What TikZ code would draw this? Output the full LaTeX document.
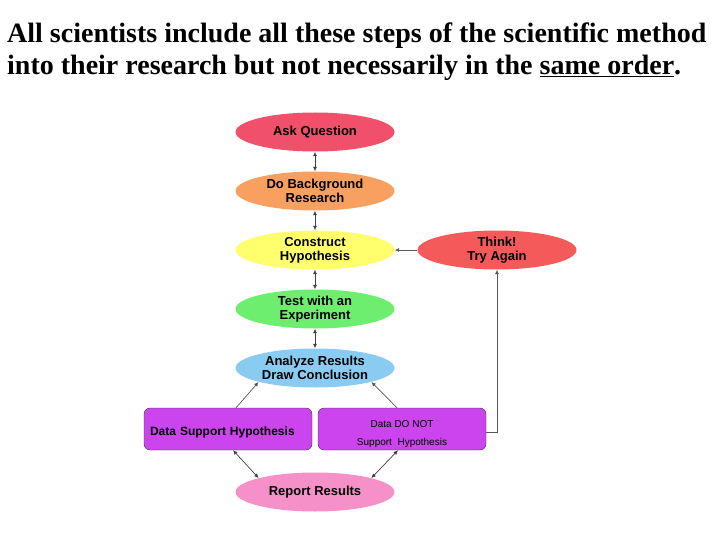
\documentclass[tikz,border=0pt]{standalone}
\usepackage{fontspec}
\setmainfont{Liberation Serif}
\setsansfont{Liberation Sans}
\usetikzlibrary{positioning,arrows.meta,shapes.geometric}
\definecolor{askred}{HTML}{F0506A}
\definecolor{bgorange}{HTML}{F8A060}
\definecolor{hypyellow}{HTML}{FFFF6E}
\definecolor{expgreen}{HTML}{6EEE6E}
\definecolor{anablue}{HTML}{8ACBF2}
\definecolor{thinkred}{HTML}{F55A5A}
\definecolor{reppink}{HTML}{F590C8}
\definecolor{datapurple}{HTML}{CC44EE}

\tikzset{
  stepnode/.style={ellipse,minimum width=159pt,minimum height=39pt,inner sep=0pt,
    align=center,font=\sffamily\bfseries\fontsize{13}{14}\selectfont},
  databox/.style={draw=black!80,fill=datapurple,rounded corners=6pt,minimum width=168pt,
    minimum height=42pt,inner sep=0pt,align=center},
  link/.style={draw=black!75,line width=0.7pt,{Latex[length=4.5pt,width=4pt]}-{Latex[length=4.5pt,width=4pt]}},
  oneway/.style={draw=black!65,line width=0.7pt,-{Latex[length=4.5pt,width=4pt]}}
}

\begin{document}
\begin{tikzpicture}[x=1pt,y=-1pt]
  \useasboundingbox (0,0) rectangle (720,540);
  % title
  \node[anchor=base west,inner sep=0pt,align=left,font=\bfseries\fontsize{28}{32}\selectfont] (title) at (7,75)
    {All scientists include all these steps of the scientific method\\
     into their research but not necessarily in the \underline{same order}.};
  % steps
  \node[stepnode,fill=askred] (ask) at (315,132) {Ask Question};
  \node[stepnode,fill=bgorange] (back) at (315,191) {Do Background\\Research};
  \node[stepnode,fill=hypyellow] (hyp) at (315,250) {Construct\\Hypothesis};
  \node[stepnode,fill=expgreen] (exp) at (315,309) {Test with an\\Experiment};
  \node[stepnode,fill=anablue] (ana) at (315,368) {Analyze Results\\Draw Conclusion};
  \node[stepnode,fill=thinkred] (think) at (497,250) {Think!\\Try Again};
  \node[stepnode,fill=reppink] (rep) at (315,492) {Report Results};
  % data boxes
  \node[databox,text width=156pt,text height=12pt,text depth=0pt,align=left,
    font=\sffamily\bfseries\fontsize{12}{14}\selectfont] (yes) at (228,429) {Data Support Hypothesis};
  \node[databox,text height=32pt,text depth=0pt,
    font=\sffamily\fontsize{10}{18}\selectfont] (no) at (402,429) {Data DO NOT\\Support\ \ Hypothesis};
  % connectors
  \draw[link] (ask) -- (back);
  \draw[link] (back) -- (hyp);
  \draw[link] (hyp) -- (exp);
  \draw[link] (exp) -- (ana);
  \draw[oneway] (think) -- (hyp);
  \draw[oneway] (yes.north) ++(8,0) coordinate (yt) (yt) -- (ana.south west);
  \draw[oneway] (no.north) ++(-5,0) coordinate (nt) (nt) -- (ana.south east);
  \draw[link] (yes.south) ++(5,0) coordinate (yb) (yb) -- (rep.north west);
  \draw[link] (no.south) ++(-4,0) coordinate (nb) (nb) -- (rep.north east);
  \draw[oneway] (no.east) ++(0,3) coordinate (ne) (ne) -| (think.south);
\end{tikzpicture}
\end{document}
